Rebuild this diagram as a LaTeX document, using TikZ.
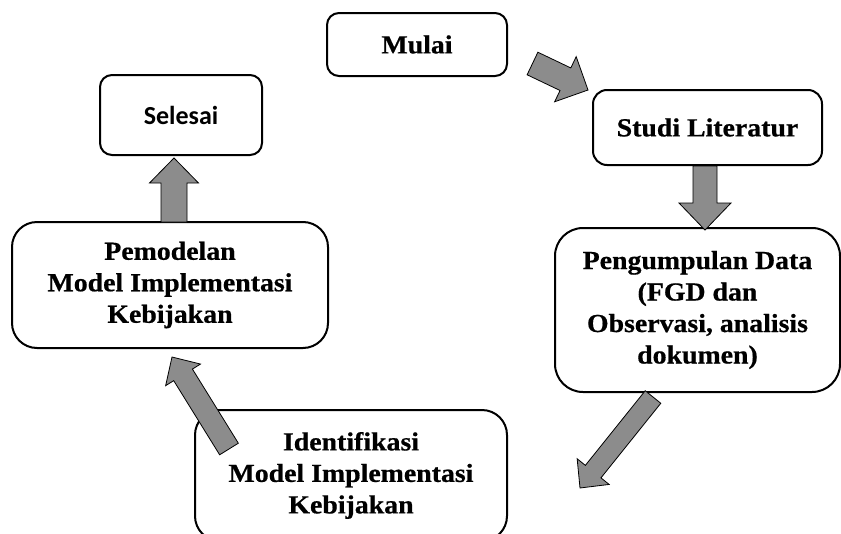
\documentclass[tikz,border=0pt]{standalone}
\usepackage{fontspec}
\setmainfont{Liberation Serif}[FakeStretch=1.07, BoldFeatures={FakeBold=0.6}]
\newfontfamily\labelsans{Carlito}
\usetikzlibrary{calc}

% block arrow: tail, tip, half shaft width, half head width, head length (pt)
\newcommand{\flowarrow}[5]{%
  \draw[flowarrowstyle] let \p1=(#1), \p2=(#2),
    \n1={atan2(\y2-\y1,\x2-\x1)},
    \n2={veclen(\x2-\x1,\y2-\y1)-#5}
  in ($(\p1)+(\n1+90:#3pt)$)
   -- ($(\p1)+(\n1:\n2)+(\n1+90:#3pt)$)
   -- ($(\p1)+(\n1:\n2)+(\n1+90:#4pt)$)
   -- (\p2)
   -- ($(\p1)+(\n1:\n2)+(\n1-90:#4pt)$)
   -- ($(\p1)+(\n1:\n2)+(\n1-90:#3pt)$)
   -- ($(\p1)+(\n1-90:#3pt)$) -- cycle;}

\tikzset{
  stepbox/.style={draw=black, line width=2pt, fill=white, rectangle,
    align=center, inner sep=0pt,
    font=\bfseries\fontsize{26}{31.5}\selectfont},
  flowarrowstyle/.style={draw=black, line width=0.8pt, fill=black!45,
    line join=miter},
}

\begin{document}
\begin{tikzpicture}[x=1pt,y=-1pt]
  \useasboundingbox (0,0) rectangle (841,533);
  \clip (0,0) rectangle (841,533);

  % process boxes
  \node[stepbox, rounded corners=12pt, minimum width=180pt, minimum height=63pt]
    (mulai) at (417,44.5) {Mulai};
  \node[stepbox, rounded corners=14pt, minimum width=229pt, minimum height=75pt]
    (studi) at (707.5,127.5) {Studi Literatur};
  \node[stepbox, rounded corners=28pt, minimum width=285pt, minimum height=164pt]
    (data) at (697.5,310) {Pengumpulan Data\\(FGD dan\\Observasi, analisis\\dokumen)};
  \node[stepbox, rounded corners=25pt, minimum width=312pt, minimum height=131pt]
    (ident) at (351,475.5) {Identifikasi\\Model Implementasi\\Kebijakan};
  \node[stepbox, rounded corners=25pt, minimum width=316pt, minimum height=126pt]
    (model) at (170,285) {Pemodelan\\Model Implementasi\\Kebijakan};
  \node[stepbox, rounded corners=12pt, minimum width=162pt, minimum height=80pt,
    font=\labelsans\bfseries\fontsize{26}{31}\selectfont]
    (selesai) at (181,115) {Selesai};

  % arrow end points
  \coordinate (a1s) at (532.5,63.5);  \coordinate (a1e) at (588,90);
  \coordinate (a2s) at (705,166);     \coordinate (a2e) at (705,230);
  \coordinate (a3s) at (653,397);     \coordinate (a3e) at (580,488);
  \coordinate (a4s) at (229,449);     \coordinate (a4e) at (172,357);
  \coordinate (a5s) at (174,222);     \coordinate (a5e) at (174,158);

  % block arrows between the steps
  \flowarrow{a1s}{a1e}{12.5}{25}{25}
  \flowarrow{a2s}{a2e}{12}{26}{27}
  \flowarrow{a3s}{a3e}{10}{20.5}{21}
  \flowarrow{a4s}{a4e}{11}{20.5}{21}
  \flowarrow{a5s}{a5e}{13}{24.5}{25}
\end{tikzpicture}
\end{document}
